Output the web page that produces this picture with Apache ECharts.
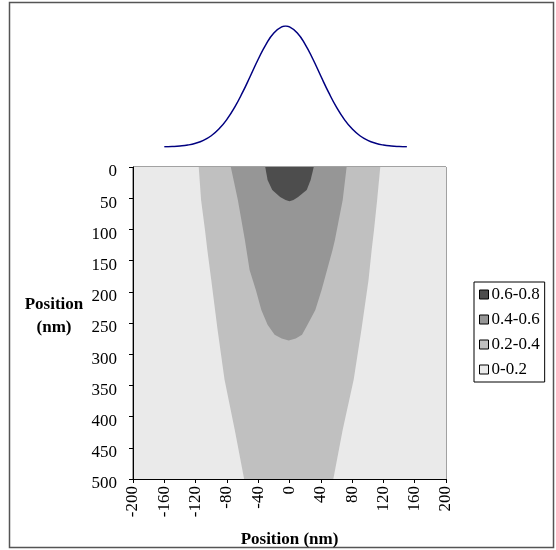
<!DOCTYPE html>
<html>
<head>
<meta charset="utf-8">
<script src="https://cdn.jsdelivr.net/npm/echarts@6/dist/echarts.min.js"></script>
<style>
  html, body { margin: 0; padding: 0; background: #fff; }
  #chart { width: 556px; height: 550px; }
</style>
</head>
<body>
<div id="chart"></div>
<script>
// profile curve on top (position nm, relative intensity)
var curveX = [-160, -150, -140, -130, -120, -110, -100, -90, -80, -70, -60, -50, -40, -30, -20, -10, -5,
  0, 10, 20, 30, 40, 50, 60, 70, 80, 90, 100, 110, 120, 130, 140, 150];
var curveY = [0.002, 0.004, 0.008, 0.016, 0.031, 0.055, 0.093, 0.15, 0.228, 0.329, 0.451, 0.587, 0.725, 0.849, 0.943, 0.993, 1.0,
  0.993, 0.943, 0.849, 0.725, 0.587, 0.451, 0.329, 0.228, 0.15, 0.093, 0.055, 0.031, 0.016, 0.008, 0.004, 0.002];

// contour levels
var levels = ['0.6-0.8', '0.4-0.6', '0.2-0.4', '0-0.2'];
var levelColors = ['#4d4d4d', '#969696', '#c0c0c0', '#eaeaea'];

// boundary 0.2 (depth nm, left edge nm, right edge nm)
var outerDepth = [0, 53, 101, 133, 181, 260, 341, 421, 500];
var outerLeft = [-116, -113, -108, -105, -100, -92, -83, -70, -58];
var outerRight = [116, 112, 108, 105, 101, 92, 82, 68, 56];

// boundary 0.4
var midDepth = [0, 53, 117, 133, 165, 197, 229, 253, 269, 275, 278];
var midLeft = [-75, -66, -57, -55, -51, -43, -36, -28, -19, -10, -1];
var midRight = [73, 68, 58, 55, 48, 41, 33, 23, 16, 8, -1];

// boundary 0.6
var innerDepth = [0, 21, 37, 48, 53, 55];
var innerLeft = [-31, -28, -22, -12, -5, 0];
var innerRight = [31, 27, 22, 11, 5, 0];

var xTicks = { min: -200, max: 200, interval: 40 };
var yTicks = { min: 0, max: 500, interval: 50 };

var FONT = 'Liberation Serif';
var chart = echarts.init(document.getElementById('chart'));

function boundaryPoints(depth, left, right) {
  var pts = [];
  for (var i = 0; i < depth.length; i++) pts.push([left[i], depth[i]]);
  for (var j = depth.length - 1; j >= 0; j--) pts.push([right[j], depth[j]]);
  return pts;
}

var shapes = {
  '0.6-0.8': boundaryPoints(innerDepth, innerLeft, innerRight),
  '0.4-0.6': boundaryPoints(midDepth, midLeft, midRight),
  '0.2-0.4': boundaryPoints(outerDepth, outerLeft, outerRight),
  '0-0.2': [[xTicks.min, yTicks.min], [xTicks.max, yTicks.min], [xTicks.max, yTicks.max], [xTicks.min, yTicks.max]]
};

function contourSeries(name, idx) {
  return {
    name: name,
    type: 'custom',
    xAxisIndex: 1,
    yAxisIndex: 1,
    z: 10 - idx,
    color: levelColors[idx],
    silent: true,
    clip: true,
    data: [0],
    renderItem: function (params, api) {
      var pts = shapes[name].map(function (p) { return api.coord(p); });
      return {
        type: 'polygon',
        shape: { points: pts },
        style: { fill: levelColors[idx], stroke: null }
      };
    }
  };
}

var series = [];
for (var k = levels.length - 1; k >= 0; k--) series.push(contourSeries(levels[k], k));
series.push({
  name: 'profile',
  type: 'line',
  xAxisIndex: 0,
  yAxisIndex: 0,
  smooth: true,
  showSymbol: false,
  lineStyle: { color: '#000080', width: 1.5 },
  data: curveX.map(function (x, i) { return [x, curveY[i]]; })
});

chart.setOption({
  animation: false,
  textStyle: { fontFamily: FONT },
  graphic: [{
    type: 'rect',
    shape: { x: 9.5, y: 2.5, width: 544, height: 545 },
    style: { fill: null, stroke: '#555', lineWidth: 1.5 },
    z: -1
  }],
  grid: [
    { left: 133, top: 26, width: 313, height: 121, outerBoundsMode: 'none' },
    { left: 133, top: 167, width: 313, height: 312, outerBoundsMode: 'none', show: true, borderColor: '#444', borderWidth: 1, backgroundColor: 'transparent' }
  ],
  legend: {
    data: levels,
    orient: 'vertical',
    left: 474,
    top: 282,
    icon: 'rect',
    itemWidth: 9,
    itemHeight: 9,
    itemGap: 8,
    padding: [4, 5, 4, 5],
    borderColor: '#000',
    borderWidth: 1,
    borderRadius: 0,
    itemStyle: { borderColor: '#000', borderWidth: 1 },
    textStyle: { fontFamily: FONT, fontSize: 17, color: '#000', padding: [0, 0, 0, -2] },
    selectedMode: false
  },
  xAxis: [
    { gridIndex: 0, type: 'value', min: -200, max: 200, show: false },
    {
      gridIndex: 1, type: 'value', min: xTicks.min, max: xTicks.max, interval: xTicks.interval,
      position: 'bottom',
      z: 30,
      splitLine: { show: false },
      axisLine: { show: true, onZero: false, lineStyle: { color: '#000' } },
      axisTick: { show: true, length: 4, lineStyle: { color: '#000' } },
      axisLabel: { rotate: 90, fontSize: 17, color: '#000', fontFamily: FONT, margin: 7 },
      name: 'Position (nm)',
      nameLocation: 'middle',
      nameGap: 52,
      nameTextStyle: { fontSize: 17, fontWeight: 'bold', color: '#000', fontFamily: FONT }
    }
  ],
  yAxis: [
    { gridIndex: 0, type: 'value', min: 0, max: 1, show: false },
    {
      gridIndex: 1, type: 'value', min: yTicks.min, max: yTicks.max, interval: yTicks.interval,
      inverse: true,
      z: 30,
      splitLine: { show: false },
      axisLine: { show: true, onZero: false, lineStyle: { color: '#000' } },
      axisTick: { show: true, length: 4, lineStyle: { color: '#000' } },
      axisLabel: {
        fontSize: 17, color: '#000', fontFamily: FONT, margin: 16,
        formatter: function (v) { return '{s| }\n{v|' + v + '}'; },
        rich: {
          s: { lineHeight: 10, fontSize: 4 },
          v: { fontSize: 17, lineHeight: 17, fontFamily: FONT, color: '#000' }
        }
      },
      name: '{a|Position}\n{a|(nm)}\n{s| }',
      nameLocation: 'middle',
      nameRotate: 0,
      nameGap: 79,
      nameTextStyle: {
        align: 'center', verticalAlign: 'middle',
        rich: {
          a: { fontSize: 17, fontWeight: 'bold', color: '#000', fontFamily: FONT, lineHeight: 23 },
          s: { fontSize: 4, lineHeight: 14 }
        }
      }
    }
  ],
  series: series
});
</script>
</body>
</html>
